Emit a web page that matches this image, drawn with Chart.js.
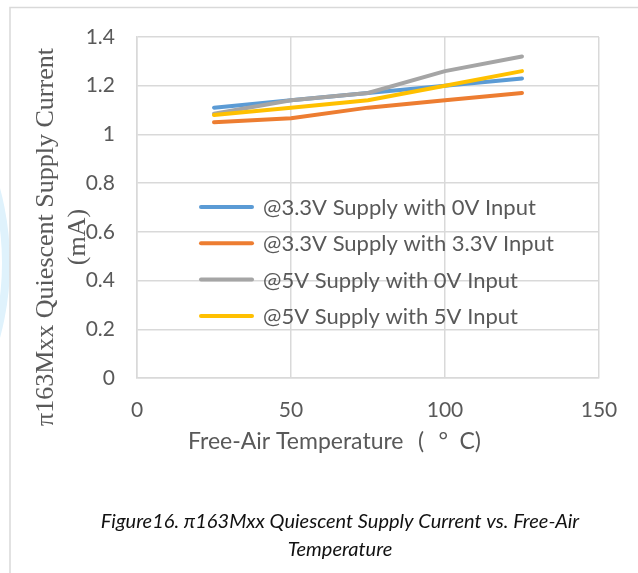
<!DOCTYPE html>
<html>
<head>
<meta charset="utf-8">
<script src="https://cdn.jsdelivr.net/npm/chart.js@4/dist/chart.umd.min.js"></script>
<style>
html,body{margin:0;padding:0;background:#fff;}
#wrap{position:relative;width:638px;height:573px;}
canvas{display:block;}
</style>
</head>
<body>
<div id="wrap"><canvas id="c" width="638" height="573"></canvas></div>
<script>
// ---- data ----
const temperatures = [25, 50, 75, 100, 125];
const seriesLabels = [
  "@3.3V Supply with 0V Input",
  "@3.3V Supply with 3.3V Input",
  "@5V Supply with 0V Input",
  "@5V Supply with 5V Input"
];
const supply33_in0 = [1.11, 1.14, 1.17, 1.20, 1.23];
const supply33_in33 = [1.05, 1.066, 1.11, 1.14, 1.17];
const supply5_in0 = [1.085, 1.14, 1.17, 1.26, 1.32];
const supply5_in5 = [1.08, 1.11, 1.14, 1.20, 1.26];
const xTicks = [0, 50, 100, 150];
const yTicks = [0, 0.2, 0.4, 0.6, 0.8, 1, 1.2, 1.4];
const yTitleLines = ["\u03c0163Mxx Quiescent Supply Current", "(mA)"];
const xTitle = "Free-Air Temperature\u2002\u2009(\u2002\u2009\u00b0\u2002C)";
const captionLines = ["Figure16. \u03c0163Mxx Quiescent Supply Current vs. Free-Air", "Temperature"];

const colors = ["#5B9BD5", "#ED7D31", "#A5A5A5", "#FFC000"];
const seriesValues = [supply33_in0, supply33_in33, supply5_in0, supply5_in5];

const datasets = seriesValues.map((vals, i) => ({
  label: seriesLabels[i],
  data: temperatures.map((t, j) => ({x: t, y: vals[j]})),
  borderColor: colors[i],
  backgroundColor: colors[i],
  borderWidth: 4,
  pointRadius: 0,
  tension: 0,
  borderCapStyle: 'round',
  borderJoinStyle: 'round',
  order: 3 - i
}));

const GRID = "#d9d9d9";
const TXT = "#595959";

const decor = {
  id: 'decor',
  beforeDraw(chart) {
    const ctx = chart.ctx;
    ctx.save();
    // faint watermark ring at left edge
    ctx.fillStyle = "#dff2fc";
    ctx.beginPath();
    ctx.arc(-276, 263, 286, 0, Math.PI * 2);
    ctx.arc(-276, 263, 278, 0, Math.PI * 2, true);
    ctx.fill();
    // outer border
    ctx.strokeStyle = GRID;
    ctx.lineWidth = 1.5;
    ctx.beginPath();
    ctx.moveTo(10, 600);
    ctx.lineTo(10, 7.5);
    ctx.lineTo(640, 7.5);
    ctx.stroke();
    ctx.restore();
  },
  afterDraw(chart) {
    const ctx = chart.ctx;
    ctx.save();
    // y title
    ctx.fillStyle = TXT;
    ctx.font = "26px 'Liberation Serif', 'Times New Roman', serif";
    ctx.textAlign = 'center';
    ctx.textBaseline = 'middle';
    const cy = 237;
    const xs = [46, 78];
    yTitleLines.forEach((line, i) => {
      ctx.save();
      ctx.translate(xs[i], cy);
      ctx.rotate(-Math.PI / 2);
      ctx.fillText(line, 0, 0);
      ctx.restore();
    });
    // x title
    ctx.font = "23px Lato, 'Noto Sans', sans-serif";
    ctx.textAlign = 'left';
    ctx.fillText(xTitle, 188, 442);
    // legend
    ctx.font = "22px Lato, sans-serif";
    ctx.textAlign = 'left';
    chart.data.datasets.forEach((ds, i) => {
      const y = 207 + i * 36.3;
      ctx.strokeStyle = ds.borderColor;
      ctx.lineWidth = 4;
      ctx.lineCap = 'round';
      ctx.beginPath();
      ctx.moveTo(201, y);
      ctx.lineTo(252, y);
      ctx.stroke();
      ctx.fillStyle = TXT;
      ctx.fillText(ds.label, 263, y + 1);
    });
    // caption
    ctx.fillStyle = "#111";
    ctx.font = "italic 20px Lato, sans-serif";
    ctx.textAlign = 'center';
    ctx.fillText(captionLines[0], 340, 522);
    ctx.fillText(captionLines[1], 340, 550);
    ctx.restore();
  }
};

new Chart(document.getElementById('c'), {
  type: 'line',
  data: { datasets },
  options: {
    responsive: false,
    animation: false,
    devicePixelRatio: 1,
    layout: { padding: { left: 0, top: 37, right: 39, bottom: 0 } },
    plugins: { legend: { display: false }, tooltip: { enabled: false }, title: { display: false } },
    scales: {
      x: {
        type: 'linear',
        min: xTicks[0],
        max: xTicks[xTicks.length - 1],
        afterBuildTicks: (s) => { s.ticks = xTicks.map(v => ({value: v})); },
        afterFit: (s) => { s.height = 195; },
        grid: { color: GRID, lineWidth: 1.5, drawTicks: false },
        border: { color: GRID, width: 1.5 },
        ticks: { color: TXT, font: { family: 'Lato', size: 21 }, padding: 20, maxRotation: 0 }
      },
      y: {
        type: 'linear',
        min: yTicks[0],
        max: yTicks[yTicks.length - 1],
        afterBuildTicks: (s) => { s.ticks = yTicks.map(v => ({value: v})); },
        afterFit: (s) => { s.width = 137; },
        grid: { color: GRID, lineWidth: 1.5, drawTicks: false },
        border: { color: GRID, width: 1.5 },
        ticks: { color: TXT, font: { family: 'Lato', size: 21 }, padding: 22,
          callback: (v) => String(Math.round(v * 10) / 10) }
      }
    }
  },
  plugins: [decor]
});
</script>
</body>
</html>
